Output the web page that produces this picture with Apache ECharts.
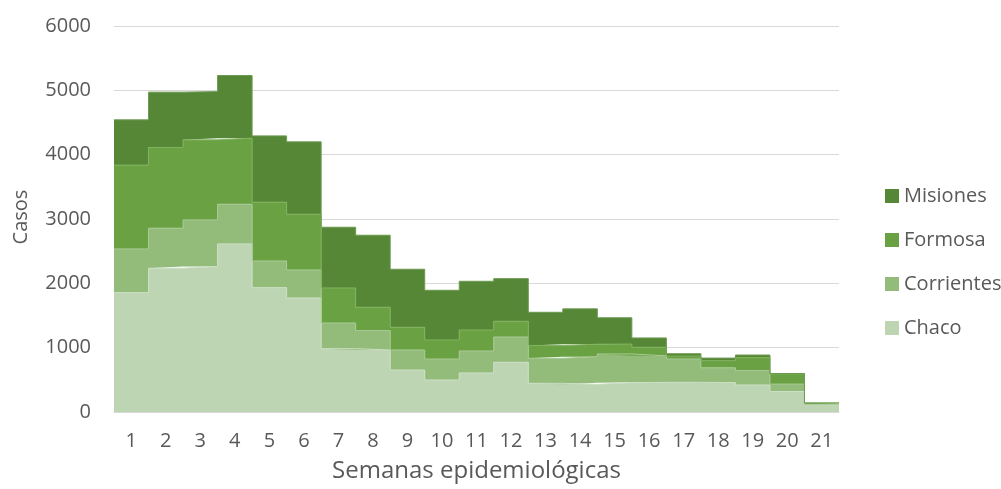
<!DOCTYPE html>
<html>
<head>
<meta charset="utf-8">
<script src="https://cdn.jsdelivr.net/npm/echarts@6/dist/echarts.min.js"></script>
<style>
  html, body { margin: 0; padding: 0; background: #ffffff; }
  #chart { width: 1001px; height: 489px; }
</style>
</head>
<body>
<div id="chart"></div>
<script>
// Casos por semana epidemiológica y provincia (áreas apiladas en escalón)
const weeks = ['1','2','3','4','5','6','7','8','9','10','11','12','13','14','15','16','17','18','19','20','21'];
const chaco      = [1855, 2235, 2260, 2613, 1933, 1773, 984, 964, 653, 498, 607, 773, 446, 430, 456, 461, 461, 456, 420, 318, 115];
const corrientes = [680, 622, 726, 617, 415, 435, 400, 301, 311, 326, 342, 393, 389, 430, 446, 412, 364, 230, 223, 116, 3];
const formosa    = [1302, 1254, 1244, 1026, 913, 866, 544, 363, 353, 296, 326, 244, 199, 194, 154, 133, 44, 111, 202, 158, 20];
const misiones   = [704, 861, 750, 974, 1031, 1125, 944, 1120, 902, 772, 757, 663, 516, 549, 409, 145, 37, 41, 41, 6, 3];
const yTicks = [0, 1000, 2000, 3000, 4000, 5000, 6000];

const FONT = 'Open Sans';
const TEXT = '#595959';

// Band edges of the week axis: edge k is the left edge of week k+1,
// the last one closes week 21. Each week is drawn as a flat step between its edges.
const edges = weeks.map((w, i) => 'e' + i).concat(['e' + weeks.length]);
function stepValues(values) {
  return values.concat([values[values.length - 1]]);
}

function areaSeries(name, values, fill, edge) {
  return {
    name: name,
    type: 'line',
    xAxisIndex: 1,
    stack: 'casos',
    step: 'end',
    symbol: 'none',
    data: stepValues(values),
    lineStyle: { color: edge, width: 1 },
    itemStyle: { color: fill },
    areaStyle: { color: fill, opacity: 1 },
    emphasis: { disabled: true }
  };
}

const chart = echarts.init(document.getElementById('chart'), null, { renderer: 'canvas' });
chart.setOption({
  animation: false,
  backgroundColor: '#ffffff',
  grid: { left: 114, right: 162, top: 26, bottom: 77, containLabel: false },
  legend: {
    orient: 'vertical',
    left: 880,
    top: 181,
    icon: 'rect',
    itemWidth: 14,
    itemHeight: 14,
    itemGap: 24,
    data: ['Misiones', 'Formosa', 'Corrientes', 'Chaco'],
    textStyle: { color: TEXT, fontFamily: FONT, fontSize: 20, lineHeight: 20, padding: [0, 0, 0, 0] }
  },
  xAxis: [
    {
      type: 'category',
      data: weeks,
      boundaryGap: true,
      name: 'Semanas epidemiológicas',
      nameLocation: 'middle',
      nameGap: 47,
      nameTextStyle: { color: TEXT, fontFamily: FONT, fontSize: 24 },
      axisLine: { show: true, lineStyle: { color: '#d9d9d9', width: 1 } },
      axisTick: { show: false },
      axisLabel: { color: TEXT, fontFamily: FONT, fontSize: 20, margin: 19, interval: 0 },
      splitLine: { show: false }
    },
    {
      type: 'category',
      data: edges,
      boundaryGap: false,
      show: false,
      splitLine: { show: false }
    }
  ],
  yAxis: {
    type: 'value',
    min: yTicks[0],
    max: yTicks[yTicks.length - 1],
    interval: 1000,
    name: 'Casos',
    nameLocation: 'middle',
    nameGap: 83,
    nameRotate: 90,
    nameTextStyle: { color: TEXT, fontFamily: FONT, fontSize: 20, padding: [0, 0, 0, 4] },
    axisLine: { show: false },
    axisTick: { show: false },
    axisLabel: { color: TEXT, fontFamily: FONT, fontSize: 20, margin: 23, formatter: v => String(v) },
    splitLine: { show: true, lineStyle: { color: '#d9d9d9', width: 1 } }
  },
  series: [
    areaSeries('Chaco', chaco, '#bed5b4', '#cde0c5'),
    areaSeries('Corrientes', corrientes, '#93bb7a', '#a9ca95'),
    areaSeries('Formosa', formosa, '#6aa143', '#80b35e'),
    areaSeries('Misiones', misiones, '#568737', '#6c9a50')
  ]
});
</script>
</body>
</html>
